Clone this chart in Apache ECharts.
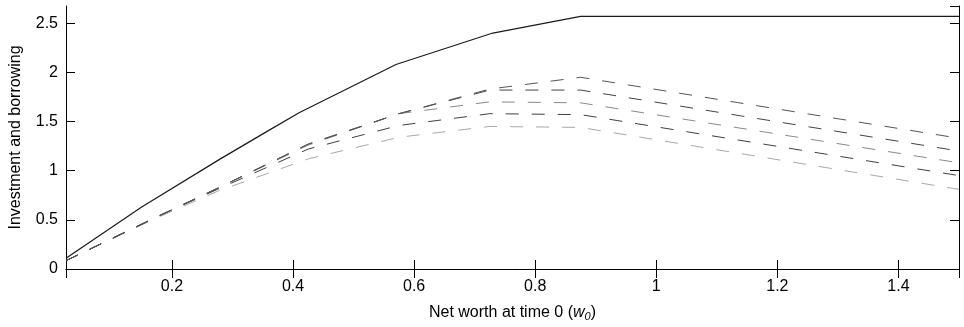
<!DOCTYPE html>
<html>
<head>
<meta charset="utf-8">
<title>Investment and borrowing</title>
<script src="https://cdn.jsdelivr.net/npm/echarts@6/dist/echarts.min.js"></script>
</head>
<body style="margin:0;background:#fff">
<div id="main" style="width:964px;height:327px;"></div>
<script type="text/javascript">
// solid curve (investment)
var solidX = [0.025, 0.15, 0.28, 0.36, 0.41, 0.57, 0.73, 0.875, 1.5];
var solidY = [0.11, 0.63, 1.12, 1.41, 1.59, 2.08, 2.40, 2.57, 2.57];

// dashed curves share one grid of w0
var dashX = [0.025, 0.175, 0.275, 0.425, 0.575, 0.725, 0.875, 1.5];
var dash1 = [0.085, 0.53, 0.82, 1.27, 1.58, 1.83, 1.95, 1.33];
var dash2 = [0.085, 0.53, 0.82, 1.27, 1.58, 1.82, 1.82, 1.20];
var dash3 = [0.085, 0.53, 0.82, 1.26, 1.58, 1.70, 1.69, 1.08];
var dash4 = [0.085, 0.53, 0.81, 1.22, 1.46, 1.58, 1.57, 0.95];
var dash5 = [0.085, 0.52, 0.79, 1.12, 1.34, 1.45, 1.44, 0.81];

var yTicks = [0, 0.5, 1, 1.5, 2, 2.5];

function pairs(xs, ys) {
  var res = [];
  for (var i = 0; i < xs.length; i++) res.push([xs[i], ys[i]]);
  return res;
}

var font = 'Liberation Sans, Arial, Helvetica, sans-serif';
var axisLine = { show: true, lineStyle: { color: '#000', width: 1 } };
var tick = { show: true, inside: true, length: 9, lineStyle: { color: '#000' } };

function dashed(ys, color) {
  return {
    type: 'line', data: pairs(dashX, ys), symbol: 'none', silent: true,
    lineStyle: { color: color, width: 1, type: [13, 13] }
  };
}

var myChart = echarts.init(document.getElementById('main'));
var option = {
  animation: false,
  backgroundColor: '#fff',
  grid: { left: 64, right: 5, top: 6, bottom: 58 },
  xAxis: [{
    type: 'value', min: 0.025, max: 1.5, splitNumber: 7,
    axisLine: axisLine, axisTick: tick, splitLine: { show: false },
    axisLabel: { color: '#000', fontSize: 16, fontFamily: font, margin: 10,
      showMinLabel: false, showMaxLabel: false },
    name: '{t|Net worth at time 0 (}{i|w}{s|0}{t|)}',
    nameLocation: 'middle', nameGap: 34,
    nameTextStyle: { rich: {
      t: { color: '#000', fontSize: 16, fontFamily: font },
      i: { color: '#000', fontSize: 16, fontFamily: font, fontStyle: 'italic' },
      s: { color: '#000', fontSize: 11, fontFamily: font, fontStyle: 'italic', padding: [8, 0, 0, 0] }
    } }
  }, {
    type: 'value', position: 'top', min: 0.025, max: 1.5, splitNumber: 7,
    axisLine: axisLine, axisTick: tick, axisLabel: { show: false }, splitLine: { show: false }
  }],
  yAxis: [{
    type: 'value', min: 0, max: 2.675, interval: 0.5,
    axisLine: axisLine, axisTick: tick, splitLine: { show: false },
    axisLabel: { color: '#000', fontSize: 16, fontFamily: font, margin: 8,
      showMaxLabel: false,
      formatter: function (v) { return yTicks.indexOf(v) >= 0 ? String(v) : ''; } },
    name: 'Investment and borrowing', nameLocation: 'middle', nameGap: 42,
    nameTextStyle: { color: '#000', fontSize: 16, fontFamily: font }
  }, {
    type: 'value', position: 'right', min: 0, max: 2.675, interval: 0.5,
    axisLine: axisLine, axisTick: tick, axisLabel: { show: false }, splitLine: { show: false }
  }],
  series: [
    {
      type: 'line', data: pairs(solidX, solidY), symbol: 'none', silent: true,
      lineStyle: { color: '#1a1a1a', width: 1.2 }
    },
    dashed(dash5, '#a8a8a8'),
    dashed(dash3, '#8a8a8a'),
    dashed(dash4, '#404040'),
    dashed(dash2, '#444444'),
    dashed(dash1, '#555555')
  ]
};
myChart.setOption(option);
</script>
</body>
</html>
